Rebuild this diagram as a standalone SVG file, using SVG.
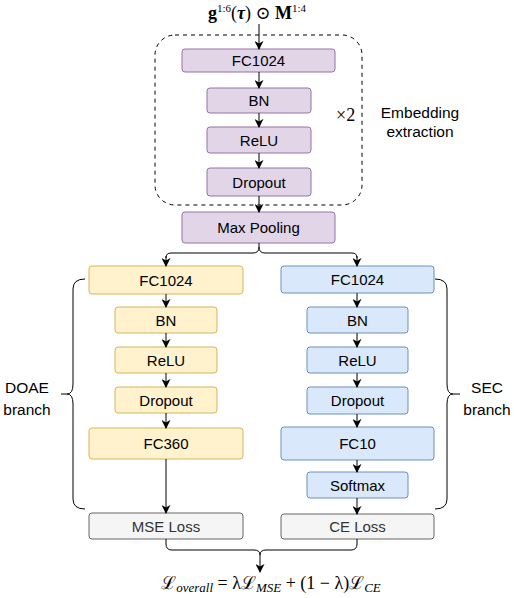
<svg xmlns="http://www.w3.org/2000/svg" width="514" height="598" viewBox="0 0 514 598">
<defs>
<marker id="arr" viewBox="0 0 10 10" refX="9" refY="5" markerWidth="9" markerHeight="9" markerUnits="userSpaceOnUse" orient="auto">
<path d="M0,0 L10,5 L0,10 L3,5 z" fill="#000"/>
</marker>
<style>
.lbl{font-family:"Liberation Sans",Arial,sans-serif;font-size:15px;text-anchor:middle;fill:#000}
.side{font-family:"Liberation Sans",Arial,sans-serif;font-size:15.5px;text-anchor:middle;fill:#000}
.math{font-family:"Liberation Serif","DejaVu Serif",serif;font-size:18px;fill:#000}
.p{fill:#e1d5e7;stroke:#9673a6;stroke-width:1}
.y{fill:#fff2cc;stroke:#d6b656;stroke-width:1}
.b{fill:#dae8fc;stroke:#6c8ebf;stroke-width:1}
.g{fill:#f5f5f5;stroke:#666666;stroke-width:1}
.gt{fill:#333333}
.c{fill:none;stroke:#000;stroke-width:1}
</style>
</defs>
<rect width="514" height="598" fill="#ffffff"/>

<g id="input-formula">
<text class="math" x="257" y="19" text-anchor="middle"><tspan font-weight="bold">g</tspan><tspan font-size="11" dy="-7">1:6</tspan><tspan dy="7">(</tspan><tspan font-weight="bold" font-style="italic">τ</tspan><tspan>) ⊙ </tspan><tspan font-weight="bold">M</tspan><tspan font-size="11" dy="-7">1:4</tspan></text>
</g>

<g id="embedding-group">
<rect x="155" y="35" width="207" height="170" rx="20" ry="20" fill="none" stroke="#000" stroke-width="1" stroke-dasharray="4 4"/>
<text class="math" x="336" y="121" font-size="16">×2</text>
<text class="side" x="420" y="118">Embedding</text>
<text class="side" x="420" y="137">extraction</text>
</g>

<g id="p-fc1024"><rect class="p" x="182" y="49" width="153" height="23" rx="3"/><text class="lbl" x="258.5" y="66">FC1024</text></g>
<g id="p-bn"><rect class="p" x="207" y="88" width="104" height="25" rx="3"/><text class="lbl" x="259" y="106">BN</text></g>
<g id="p-relu"><rect class="p" x="207" y="127" width="104" height="26" rx="3"/><text class="lbl" x="259" y="145.5">ReLU</text></g>
<g id="p-dropout"><rect class="p" x="207" y="168" width="104" height="28" rx="3"/><text class="lbl" x="259" y="187.5">Dropout</text></g>
<g id="maxpool"><rect class="p" x="182" y="212" width="153" height="31" rx="3"/><text class="lbl" x="258.5" y="233">Max Pooling</text></g>

<g id="y-fc1024"><rect class="y" x="89" y="266" width="154" height="28" rx="3"/><text class="lbl" x="166" y="285.5">FC1024</text></g>
<g id="y-bn"><rect class="y" x="115" y="307" width="102" height="26" rx="3"/><text class="lbl" x="166" y="325.5">BN</text></g>
<g id="y-relu"><rect class="y" x="115" y="347" width="102" height="26" rx="3"/><text class="lbl" x="166" y="365.5">ReLU</text></g>
<g id="y-dropout"><rect class="y" x="115" y="387" width="102" height="26" rx="3"/><text class="lbl" x="166" y="405.5">Dropout</text></g>
<g id="y-fc360"><rect class="y" x="89" y="428" width="154" height="31" rx="3"/><text class="lbl" x="166" y="449">FC360</text></g>
<g id="mse-loss"><rect class="g" x="89" y="513" width="154" height="26" rx="3"/><text class="lbl gt" x="166" y="531.5">MSE Loss</text></g>

<g id="b-fc1024"><rect class="b" x="281" y="266" width="153" height="27" rx="3"/><text class="lbl" x="357.5" y="285">FC1024</text></g>
<g id="b-bn"><rect class="b" x="307" y="307" width="101" height="26" rx="3"/><text class="lbl" x="357.5" y="325.5">BN</text></g>
<g id="b-relu"><rect class="b" x="307" y="347" width="101" height="26" rx="3"/><text class="lbl" x="357.5" y="365.5">ReLU</text></g>
<g id="b-dropout"><rect class="b" x="307" y="387" width="101" height="27" rx="3"/><text class="lbl" x="357.5" y="406">Dropout</text></g>
<g id="b-fc10"><rect class="b" x="281" y="427" width="153" height="33" rx="3"/><text class="lbl" x="357.5" y="449">FC10</text></g>
<g id="b-softmax"><rect class="b" x="307" y="472" width="101" height="26" rx="3"/><text class="lbl" x="357.5" y="490.5">Softmax</text></g>
<g id="ce-loss"><rect class="g" x="281" y="514" width="153" height="25" rx="3"/><text class="lbl gt" x="357.5" y="532">CE Loss</text></g>

<g id="doae-label">
<text class="side" x="27" y="393">DOAE</text>
<text class="side" x="27" y="415">branch</text>
</g>
<g id="sec-label">
<text class="side" x="487" y="393">SEC</text>
<text class="side" x="487" y="415">branch</text>
</g>

<g id="output-formula">
<text class="math" x="271" y="589" text-anchor="middle"><tspan>ℒ</tspan><tspan font-size="13" font-style="italic" dy="3">overall</tspan><tspan dy="-3"> = λℒ</tspan><tspan font-size="13" font-style="italic" dy="3">MSE</tspan><tspan dy="-3"> + (1 − λ)ℒ</tspan><tspan font-size="13" font-style="italic" dy="3">CE</tspan></text>
</g>

<g id="connectors">
<line class="c" x1="259" y1="24" x2="259" y2="49" marker-end="url(#arr)"/>
<line class="c" x1="259" y1="72" x2="259" y2="88" marker-end="url(#arr)"/>
<line class="c" x1="259" y1="113" x2="259" y2="127" marker-end="url(#arr)"/>
<line class="c" x1="259" y1="153" x2="259" y2="168" marker-end="url(#arr)"/>
<line class="c" x1="259" y1="196" x2="259" y2="212" marker-end="url(#arr)"/>
<path class="c" d="M166,258 Q166,253 171,253 L253,253 Q259,253 259,247 L259,243 M259,247 Q259,253 265,253 L352,253 Q357,253 357,258"/>
<line class="c" x1="166" y1="256" x2="166" y2="266" marker-end="url(#arr)"/>
<line class="c" x1="357" y1="256" x2="357" y2="266" marker-end="url(#arr)"/>

<line class="c" x1="166" y1="294" x2="166" y2="307" marker-end="url(#arr)"/>
<line class="c" x1="166" y1="333" x2="166" y2="347" marker-end="url(#arr)"/>
<line class="c" x1="166" y1="373" x2="166" y2="387" marker-end="url(#arr)"/>
<line class="c" x1="166" y1="413" x2="166" y2="428" marker-end="url(#arr)"/>
<line class="c" x1="166" y1="459" x2="166" y2="513" marker-end="url(#arr)"/>

<line class="c" x1="357" y1="293" x2="357" y2="307" marker-end="url(#arr)"/>
<line class="c" x1="357" y1="333" x2="357" y2="347" marker-end="url(#arr)"/>
<line class="c" x1="357" y1="373" x2="357" y2="387" marker-end="url(#arr)"/>
<line class="c" x1="357" y1="414" x2="357" y2="427" marker-end="url(#arr)"/>
<line class="c" x1="357" y1="460" x2="357" y2="472" marker-end="url(#arr)"/>
<line class="c" x1="357" y1="498" x2="357" y2="514" marker-end="url(#arr)"/>

<path class="c" d="M85,279 Q73,279 73,289 L73,384 Q73,394 67,394 Q73,394 73,404 L73,499 Q73,509 85,509 M67,394 L61,394"/>
<path class="c" d="M435,279 Q447,279 447,289 L447,384 Q447,394 453,394 Q447,394 447,404 L447,499 Q447,509 435,509 M453,394 L460,394"/>

<path class="c" d="M166,539 L166,544 Q166,550 172,550 L254,550 Q260,550 260,555 M260,555 Q260,550 266,550 L351,550 Q357,550 357,544 L357,539"/>
<line class="c" x1="260" y1="555" x2="260" y2="572" marker-end="url(#arr)"/>
</g>
</svg>
